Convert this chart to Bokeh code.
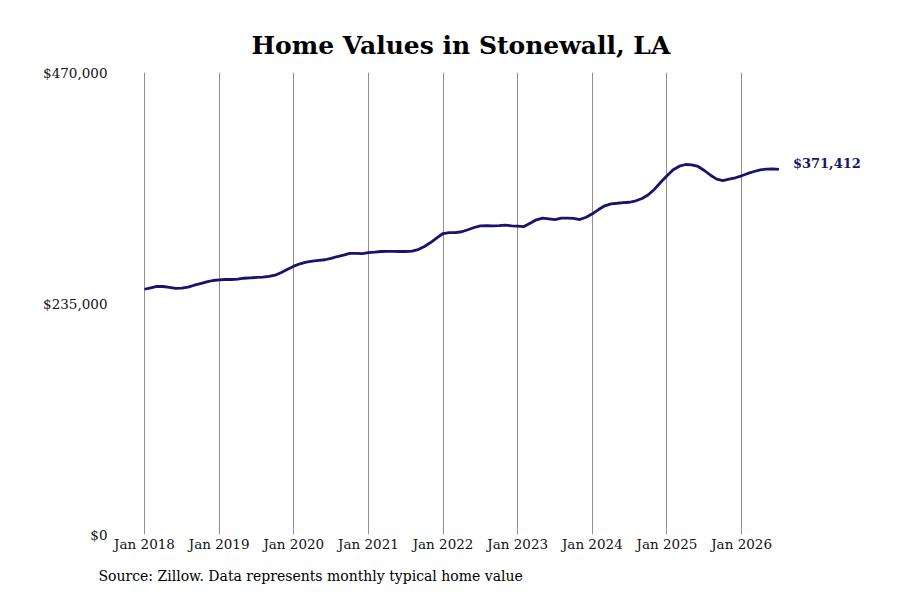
from bokeh.plotting import figure
from bokeh.models import Range1d, FixedTicker, Title
from bokeh.core.properties import value
from bokeh.embed import file_html
from bokeh.resources import INLINE

# ---- data (monthly typical home value, Jan 2018 .. Jul 2026) ----
title_text = "Home Values in Stonewall, LA"
source_text = "Source: Zillow. Data represents monthly typical home value"

values_2018 = [249500, 251000, 252300, 252300, 251300, 250300, 250600, 251600, 253600, 255300, 257000, 258400]
values_2019 = [259100, 259400, 259400, 259700, 260700, 261100, 261500, 261800, 262500, 263800, 266500, 269900]
values_2020 = [273000, 275400, 277000, 278000, 278800, 279500, 281000, 282800, 284200, 285900, 286000, 285800]
values_2021 = [286700, 287200, 287900, 288000, 288000, 287900, 287900, 288200, 289900, 293000, 297000, 301800]
values_2022 = [306200, 307200, 307200, 308000, 310000, 312300, 314000, 314300, 314000, 314300, 314700, 314000]
values_2023 = [313700, 313300, 316700, 320100, 321800, 321100, 320400, 321800, 321800, 321500, 320400, 322800]
values_2024 = [326200, 330600, 334400, 336400, 337000, 337700, 338000, 339500, 341800, 345600, 351300, 358400]
values_2025 = [364900, 371000, 374700, 376400, 376100, 374400, 370300, 365500, 361500, 360100, 361500, 362900]
values_2026 = [364900, 367300, 369300, 371000, 371600, 372000, 371412]

home_values = (values_2018 + values_2019 + values_2020 + values_2021 + values_2022
               + values_2023 + values_2024 + values_2025 + values_2026)
month_index = list(range(len(home_values)))

tick_months = [0, 12, 24, 36, 48, 60, 72, 84, 96]
tick_labels = ["Jan 2018", "Jan 2019", "Jan 2020", "Jan 2021", "Jan 2022",
               "Jan 2023", "Jan 2024", "Jan 2025", "Jan 2026"]
y_ticks = [0, 235000, 470000]
y_tick_labels = ["$0", "$235,000", "$470,000"]
end_label = "$371,412"

LINE_COLOR = "#15156b"
FONT = "DejaVu Serif"

p = figure(width=892, height=600, output_backend="svg", toolbar_location=None,
           x_range=Range1d(-5.145, 118.33), y_range=Range1d(0, 470000),
           min_border_left=112, min_border_right=12, min_border_top=72, min_border_bottom=66)
p.outline_line_color = None
p.background_fill_color = "white"
p.border_fill_color = "white"

p.line(month_index, home_values, line_color=LINE_COLOR, line_width=2.8)

p.text([month_index[-1]], [home_values[-1]], text=[end_label], x_offset=14, y_offset=-6,
       text_baseline="middle", text_align="left", text_color=LINE_COLOR,
       text_font=value(FONT), text_font_style="bold", text_font_size="13px")

# axes
p.xaxis.ticker = FixedTicker(ticks=tick_months)
p.xaxis.major_label_overrides = {m: l for m, l in zip(tick_months, tick_labels)}
p.yaxis.ticker = FixedTicker(ticks=y_ticks)
p.yaxis.major_label_overrides = {v: l for v, l in zip(y_ticks, y_tick_labels)}
for ax in (p.xaxis[0], p.yaxis[0]):
    ax.axis_line_color = None
    ax.major_tick_line_color = None
    ax.minor_tick_line_color = None
    ax.major_tick_out = 0
    ax.major_tick_in = 0
    ax.minor_tick_out = 0
    ax.major_label_text_font = FONT
    ax.major_label_text_font_size = "13.5px"
    ax.major_label_text_color = "#111111"
p.xaxis.major_label_standoff = 1
p.yaxis.major_label_standoff = 5

p.xgrid.grid_line_color = "#8f8f8f"
p.xgrid.grid_line_width = 1
p.ygrid.grid_line_color = None

p.add_layout(Title(text=title_text, text_font=FONT, text_font_style="bold",
                   text_font_size="25px", align="left", offset=139,
                   standoff=26, text_color="black"), "above")
p.add_layout(Title(text=source_text, text_font=FONT, text_font_style="normal",
                   text_font_size="14px", align="left", offset=-14,
                   standoff=22, text_color="black"), "below")

open("out.html", "w").write(file_html(p, INLINE))
